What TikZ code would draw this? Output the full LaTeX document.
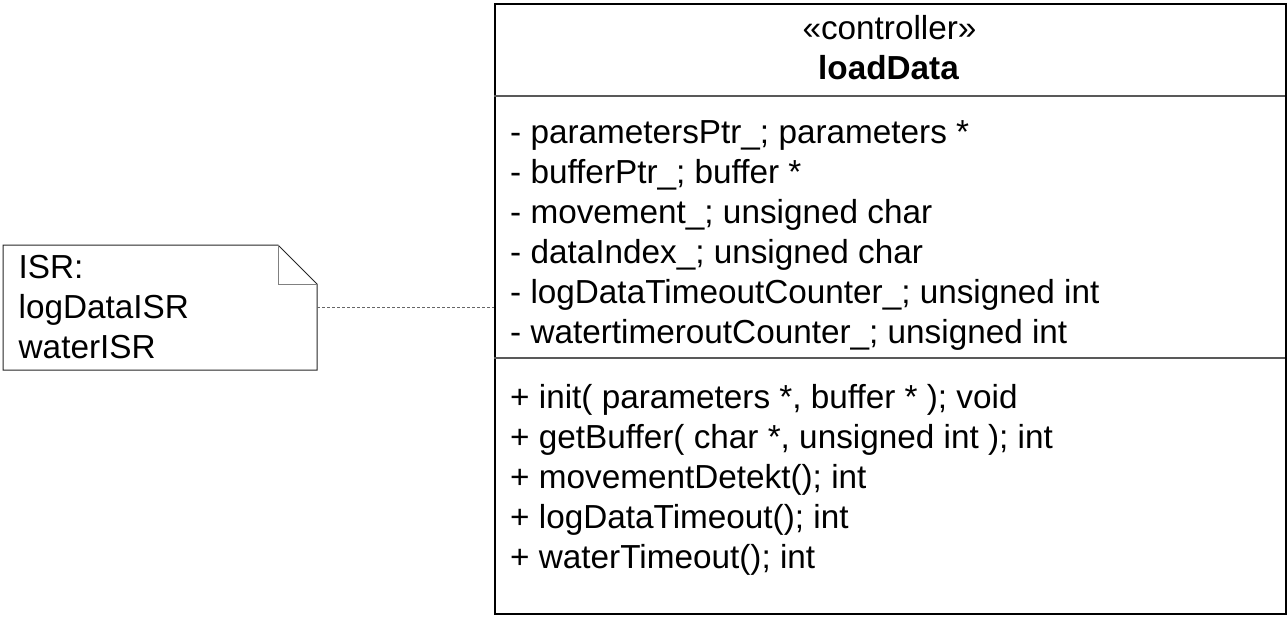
\documentclass[tikz,border=0pt]{standalone}
\usepackage{fontspec}
\setmainfont{Liberation Sans}
\tikzset{
  txt/.style={anchor=base west, inner sep=0pt, font=\fontsize{33.3}{40}\selectfont},
  ctr/.style={anchor=base, inner sep=0pt, font=\fontsize{33.3}{40}\selectfont},
  clsbox/.style={draw=black, line width=1.5pt, inner sep=0pt, anchor=north west},
  divline/.style={draw=black!65, line width=1.5pt},
  noteline/.style={draw=black!85, line width=1pt},
  foldline/.style={draw=black!50, line width=1pt},
  link/.style={draw=black!60, line width=0.8pt, dash pattern=on 3pt off 2pt}
}
\begin{document}
\begin{tikzpicture}[x=1pt,y=-1pt]
\useasboundingbox (0,0) rectangle (1288,616);
% class box
\node (cls) [clsbox, minimum width=791pt, minimum height=610pt] at (494,3) {};
\draw[divline] (494,96) -- (1285,96);
\draw[divline] (494,358) -- (1285,358);
\node (stereo) [ctr] at (889.5,39) {«controller»};
\node (name) [ctr, font=\fontsize{33.3}{40}\selectfont\bfseries] at (888.5,79) {loadData};
% attributes
\node (a1) [txt] at (510,143) {- parametersPtr\_; parameters *};
\node (a2) [txt] at (510,183) {- bufferPtr\_; buffer *};
\node (a3) [txt] at (510,223) {- movement\_; unsigned char};
\node (a4) [txt] at (510,263) {- dataIndex\_; unsigned char};
\node (a5) [txt] at (510,303) {- logDataTimeoutCounter\_; unsigned int};
\node (a6) [txt] at (510,343) {- watertimeroutCounter\_; unsigned int};
% operations
\node (m1) [txt] at (510,408) {+ init( parameters *, buffer * ); void};
\node (m2) [txt] at (510,448) {+ getBuffer( char *, unsigned int ); int};
\node (m3) [txt] at (510,488) {+ movementDetekt(); int};
\node (m4) [txt] at (510,528) {+ logDataTimeout(); int};
\node (m5) [txt] at (510,568) {+ waterTimeout(); int};
% note
\node (note) [inner sep=0pt, minimum width=314pt, minimum height=125pt, anchor=north west] at (3,245) {};
\draw[noteline] (3,245) -- (278,245) -- (317,284) -- (317,370) -- (3,370) -- cycle;
\draw[foldline] (278,245) -- (278,284) -- (317,284);
\node (n1) [txt] at (18.5,278) {ISR:};
\node (n2) [txt] at (18.5,318) {logDataISR};
\node (n3) [txt] at (18.5,358) {waterISR};
% connector
\draw[link] (note.east) -- (cls.west |- note.east);
\end{tikzpicture}
\end{document}
